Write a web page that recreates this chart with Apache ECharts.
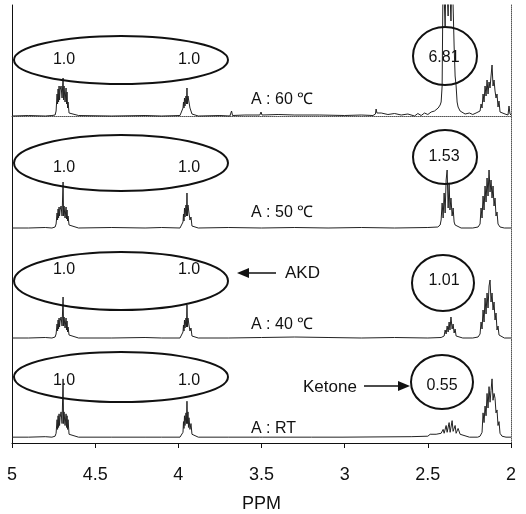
<!DOCTYPE html>
<html><head><meta charset="utf-8">
<script src="https://cdn.jsdelivr.net/npm/echarts@6/dist/echarts.min.js"></script>
<style>html,body{margin:0;padding:0;background:#fff}#c{width:526px;height:514px}</style>
</head><body><div id="c"></div><script>
// x axis ticks (ppm)
const xTicks = [5, 4.5, 4, 3.5, 3, 2.5, 2];
const panelLabels = ['A : 60 ℃', 'A : 50 ℃', 'A : 40 ℃', 'A : RT'];
const akdIntegrals = ['1.0', '1.0'];
const ketoneIntegrals = ['6.81', '1.53', '1.01', '0.55'];

// spectra: [ppm, intensity above baseline]
const spec60 = [
  [5.000,0],[4.900,0.5],[4.800,0],[4.760,0.5],[4.741,1],[4.735,5],[4.729,22],[4.726,12],[4.723,27],[4.720,14],[4.717,30],[4.714,16],
  [4.711,26],[4.705,30],[4.699,18],[4.693,38],[4.690,16],[4.687,30],[4.681,14],[4.675,28],[4.672,12],[4.669,24],[4.666,8],[4.663,14],
  [4.657,3],[4.651,1],[4.600,0.5],[4.400,0],[4.200,0.5],[4.100,0],[3.990,0.5],[3.978,2],[3.972,8],[3.969,14],[3.966,8],[3.963,18],
  [3.960,10],[3.954,20],[3.951,12],[3.948,28],[3.945,12],[3.942,20],[3.936,14],[3.930,8],[3.924,10],[3.918,2],[3.912,1],[3.880,0],
  [3.750,0.5],[3.690,0],[3.680,5],[3.674,0.5],[3.600,1],[3.510,1],[3.503,4],[3.497,1],[3.400,1.5],[3.300,1],[3.150,1],[3.000,0.5],
  [2.900,1],[2.830,0.5],[2.815,2],[2.811,7],[2.806,3],[2.795,2],[2.780,3],[2.740,1.5],[2.700,2.5],[2.660,1],[2.620,2],[2.580,0],
  [2.560,2.5],[2.540,0.5],[2.520,3],[2.500,1.5],[2.480,4],[2.460,5],[2.450,6],[2.438,8],[2.426,11],[2.420,14],[2.414,30],[2.408,150],
  [2.402,150],[2.396,90],[2.390,150],[2.384,150],[2.378,100],[2.372,150],[2.367,150],[2.361,95],[2.354,150],[2.348,150],[2.342,70],
  [2.336,40],[2.330,30],[2.324,14],[2.318,9],[2.306,5],[2.294,3],[2.276,2],[2.250,3],[2.230,1.5],[2.210,3],[2.198,2],[2.186,5],
  [2.180,12],[2.174,8],[2.168,22],[2.162,14],[2.156,30],[2.150,20],[2.144,36],[2.138,22],[2.132,34],[2.126,28],[2.120,40],[2.114,51],
  [2.108,30],[2.102,36],[2.096,25],[2.090,18],[2.084,22],[2.078,9],[2.072,15],[2.066,4],[2.054,3],[2.036,2],[2.018,1],[2.012,10],
  [2.006,2],[2.000,1]
];
const spec50 = [
  [5.000,0],[4.900,0],[4.800,0.5],[4.760,0],[4.741,1],[4.735,4],[4.729,15],[4.726,8],[4.723,19],[4.720,10],[4.717,21],[4.714,12],
  [4.711,18],[4.705,22],[4.699,12],[4.693,46],[4.690,12],[4.687,22],[4.681,10],[4.675,21],[4.672,9],[4.669,18],[4.666,7],[4.663,12],
  [4.657,3],[4.651,1],[4.600,0],[4.400,0.5],[4.200,0],[4.100,0.5],[3.990,0],[3.978,2],[3.972,6],[3.969,14],[3.966,7],[3.963,20],
  [3.960,11],[3.954,23],[3.951,12],[3.948,35],[3.945,12],[3.942,23],[3.936,15],[3.930,8],[3.924,11],[3.918,2],[3.912,1],[3.880,0],
  [3.700,0.5],[3.500,0],[3.300,0.5],[3.100,0],[2.900,0.5],[2.700,0],[2.500,0.5],[2.440,1],[2.426,3],[2.420,8],[2.414,25],[2.408,10],
  [2.402,35],[2.396,15],[2.390,48],[2.384,58],[2.378,20],[2.372,45],[2.367,18],[2.361,30],[2.354,12],[2.348,20],[2.342,6],[2.336,3],
  [2.324,1],[2.300,0],[2.230,0],[2.198,1],[2.186,4],[2.180,20],[2.174,10],[2.168,32],[2.162,18],[2.156,42],[2.150,26],[2.144,50],
  [2.138,32],[2.132,58],[2.126,36],[2.120,48],[2.114,30],[2.108,42],[2.102,22],[2.096,30],[2.090,12],[2.084,16],[2.078,4],[2.066,1],
  [2.040,0],[2.000,0]
];
const spec40 = [
  [5.000,0],[4.900,0],[4.800,0.5],[4.760,0],[4.741,1],[4.735,4],[4.729,14],[4.726,7],[4.723,18],[4.720,9],[4.717,20],[4.714,11],
  [4.711,17],[4.705,21],[4.699,12],[4.693,41],[4.690,12],[4.687,21],[4.681,10],[4.675,20],[4.672,8],[4.669,17],[4.666,6],[4.663,11],
  [4.657,3],[4.651,1],[4.600,0],[4.400,0],[4.200,0.5],[4.100,0],[3.990,0],[3.978,2],[3.972,6],[3.969,13],[3.966,7],[3.963,18],
  [3.960,10],[3.954,20],[3.951,11],[3.948,33],[3.945,11],[3.942,20],[3.936,13],[3.930,7],[3.924,10],[3.918,2],[3.912,1],[3.880,0],
  [3.700,0],[3.500,0.5],[3.300,1],[3.100,0.5],[2.900,0],[2.700,0.5],[2.500,0],[2.420,0.5],[2.402,2],[2.396,8],[2.390,4],[2.384,12],
  [2.378,6],[2.372,16],[2.367,8],[2.361,21],[2.354,9],[2.348,14],[2.342,5],[2.336,9],[2.330,2],[2.318,1],[2.290,0],[2.230,0],
  [2.198,1],[2.186,4],[2.180,16],[2.174,9],[2.168,28],[2.162,16],[2.156,40],[2.150,24],[2.144,45],[2.138,30],[2.132,52],[2.126,58],
  [2.120,36],[2.114,45],[2.108,28],[2.102,36],[2.096,18],[2.090,25],[2.084,8],[2.078,12],[2.072,3],[2.060,1],[2.040,0],[2.000,0]
];
const specRT = [
  [5.000,0],[4.900,0],[4.800,0.5],[4.760,0],[4.741,1],[4.735,4],[4.729,18],[4.726,8],[4.723,22],[4.720,10],[4.717,24],[4.714,12],
  [4.711,20],[4.705,26],[4.699,14],[4.693,60],[4.690,14],[4.687,26],[4.681,12],[4.675,24],[4.672,10],[4.669,22],[4.666,8],[4.663,18],
  [4.657,3],[4.651,1],[4.600,0],[4.400,0],[4.200,0],[4.100,0],[3.990,0],[3.978,1],[3.972,5],[3.969,16],[3.966,9],[3.963,22],
  [3.960,12],[3.954,25],[3.951,14],[3.948,37],[3.945,14],[3.942,26],[3.939,10],[3.936,20],[3.930,8],[3.924,14],[3.918,3],[3.912,1],
  [3.880,0],[3.700,0],[3.510,0],[3.503,1.5],[3.496,0],[3.200,0],[3.016,0],[3.010,1.5],[3.004,0],[2.600,0.5],[2.500,1],[2.486,3],
  [2.450,3],[2.420,4],[2.408,8],[2.402,4],[2.390,12],[2.384,5],[2.372,15],[2.366,5],[2.354,17],[2.348,6],[2.336,12],[2.330,4],
  [2.318,9],[2.306,3],[2.294,2],[2.250,0],[2.200,0],[2.186,1],[2.174,5],[2.168,25],[2.162,15],[2.156,32],[2.150,22],[2.144,45],
  [2.138,30],[2.132,52],[2.126,36],[2.120,48],[2.114,60],[2.108,38],[2.102,45],[2.096,40],[2.090,25],[2.084,28],[2.078,12],[2.072,16],
  [2.066,4],[2.054,1],[2.030,0],[2.000,0]
];

const spectra = [spec60, spec50, spec40, specRT];
const gridBoxes = [[5,113],[118,112],[230,110],[340,106]];
const yRanges = [[-2,111],[-2,110],[-2,108],[-6,100]];
const font = 'Liberation Sans, Arial, sans-serif';
const ink = '#111';

const grids = gridBoxes.map(b => ({left:12, right:15, top:b[0], height:b[1]}));
const xAxes = gridBoxes.map((b, i) => {
  const base = {type:'value', gridIndex:i, min:2, max:5, inverse:true, interval:0.5,
    splitLine:{show:false}};
  if (i === 0) return Object.assign(base, {position:'top', axisLine:{show:true, lineStyle:{color:'#555', type:'dotted', width:1}},
    axisTick:{show:false}, axisLabel:{show:false}});
  if (i < 3) return Object.assign(base, {show:false});
  return Object.assign(base, {position:'bottom',
    axisLine:{show:true, onZero:false, lineStyle:{color:ink, width:1}},
    axisTick:{show:true, inside:false, length:5, lineStyle:{color:ink}},
    axisLabel:{show:true, fontSize:18, color:ink, fontFamily:font, margin:23,
      formatter: v => xTicks.indexOf(v) >= 0 ? String(v) : ''},
    name:'PPM', nameLocation:'middle', nameGap:52,
    nameTextStyle:{fontSize:18, color:ink, fontFamily:font}});
});
const yAxes = [];
gridBoxes.forEach((b, i) => {
  yAxes.push({type:'value', gridIndex:i, min:yRanges[i][0], max:yRanges[i][1], position:'left',
    axisLine:{show:true, lineStyle:{color:ink, width:1}}, axisTick:{show:false}, axisLabel:{show:false}, splitLine:{show:false}});
});
gridBoxes.forEach((b, i) => {
  yAxes.push({type:'value', gridIndex:i, min:yRanges[i][0], max:yRanges[i][1], position:'right',
    axisLine:{show:true, lineStyle:{color:'#555', type:'dotted', width:1}}, axisTick:{show:false}, axisLabel:{show:false}, splitLine:{show:false}});
});
const series = spectra.map((d, i) => ({type:'line', xAxisIndex:i, yAxisIndex:i, data:d, showSymbol:false, symbol:'none',
  lineStyle:{color:'#222', width:1}, clip:true, animation:false}));

const ellipses = [[121,60,107,24],[121,163,107,28],[121,281,107,29],[121,377,107,25]];
const circles = [[445,56,32,29],[445,157,32,27],[443,283,31,28],[442,382,31,27]];
const akdY = [60,168,270,381];
const ketY = [58,157,281,386];
const labY = [100,213,325,429];
const graphic = [];
ellipses.forEach(e => graphic.push({type:'ellipse', shape:{cx:e[0], cy:e[1], rx:e[2], ry:e[3]}, style:{fill:'none', stroke:ink, lineWidth:2}, z:10}));
circles.forEach(e => graphic.push({type:'ellipse', shape:{cx:e[0], cy:e[1], rx:e[2], ry:e[3]}, style:{fill:'none', stroke:ink, lineWidth:2}, z:10}));
akdY.forEach(y => {
  graphic.push({type:'text', x:64, y:y, style:{text:akdIntegrals[0], font:'16px '+font, fill:ink, textAlign:'center', textVerticalAlign:'middle'}, z:10});
  graphic.push({type:'text', x:189, y:y, style:{text:akdIntegrals[1], font:'16px '+font, fill:ink, textAlign:'center', textVerticalAlign:'middle'}, z:10});
});
ketY.forEach((y, i) => graphic.push({type:'text', x:i===3?442:444, y:y, style:{text:ketoneIntegrals[i], font:'16px '+font, fill:ink, textAlign:'center', textVerticalAlign:'middle'}, z:10}));
labY.forEach((y, i) => graphic.push({type:'text', x:251, y:y, style:{text:panelLabels[i], font:'16px '+font, fill:ink, textAlign:'left', textVerticalAlign:'middle'}, z:10}));
// AKD arrow
graphic.push({type:'line', shape:{x1:246, y1:273, x2:276, y2:273}, style:{stroke:ink, lineWidth:1.5}, z:10});
graphic.push({type:'polygon', shape:{points:[[237,273],[249,268],[249,278]]}, style:{fill:ink}, z:10});
graphic.push({type:'text', x:285, y:273, style:{text:'AKD', font:'17px '+font, fill:ink, textAlign:'left', textVerticalAlign:'middle'}, z:10});
// Ketone arrow
graphic.push({type:'text', x:303, y:387, style:{text:'Ketone', font:'17px '+font, fill:ink, textAlign:'left', textVerticalAlign:'middle'}, z:10});
graphic.push({type:'line', shape:{x1:364, y1:386, x2:400, y2:386}, style:{stroke:ink, lineWidth:1.5}, z:10});
graphic.push({type:'polygon', shape:{points:[[410,386],[398,381],[398,391]]}, style:{fill:ink}, z:10});

const chart = echarts.init(document.getElementById('c'), null, {renderer:'canvas'});
chart.setOption({animation:false, backgroundColor:'#fff', grid:grids, xAxis:xAxes, yAxis:yAxes, series:series, graphic:graphic});
</script></body></html>
